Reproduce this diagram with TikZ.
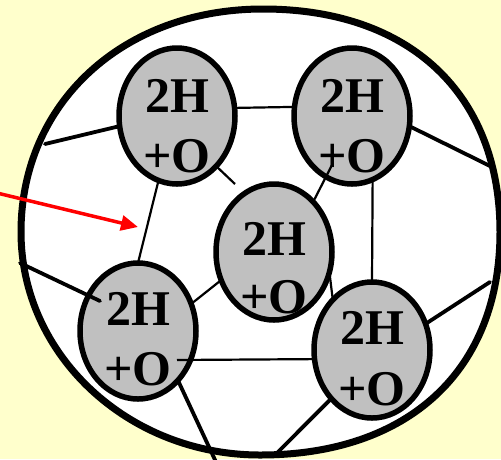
\documentclass[tikz,border=0pt]{standalone}
\usepackage{fontspec}
\setmainfont{Liberation Serif}
\usetikzlibrary{shapes.geometric,arrows.meta}
\definecolor{bgyellow}{HTML}{FFFFCC}
\definecolor{cellgrey}{HTML}{C0C0C0}
\begin{document}
\begin{tikzpicture}[x=1pt,y=-1pt,
  cell/.style={ellipse,draw=black,line width=5.5pt,fill=cellgrey,minimum width=116pt,minimum height=136pt,inner sep=0pt,outer sep=0pt},
  lbl/.style={anchor=base,inner sep=0pt,font=\fontsize{50}{60}\selectfont\bfseries},
  thinlink/.style={line width=2.2pt},
  thicklink/.style={line width=3.8pt,line cap=round},
  wall/.style={line width=7pt,fill=white,draw=black},
  pointer/.style={draw=red,line width=3.5pt,-{Triangle[length=17pt,width=15pt]}}
]
\useasboundingbox (0,0) rectangle (501,459);
\clip (0,0) rectangle (501,459);
\fill[bgyellow] (0,0) rectangle (501,459);

% cell wall
\draw[wall] (500,232) .. controls (500,94) and (410,9) .. (263,9)
  .. controls (123,9) and (21,103) .. (21,232)
  .. controls (21,355) and (128,455) .. (260,455)
  .. controls (409,455) and (500,370) .. (500,232) -- cycle;

% cells
\node[cell] (tl) at (177,116) {};
\node[cell] (tr) at (352,116) {};
\node[cell] (c)  at (274,252) {};
\node[cell] (bl) at (138,331) {};
\node[cell] (br) at (372,350) {};

% free ends
\coordinate (a1) at (45,144);
\coordinate (c1) at (490,166);
\coordinate (d1) at (235,184);
\coordinate (e1) at (333,163);
\coordinate (j1) at (177,360);
\coordinate (k1) at (20,263);
\coordinate (k2) at (100,301);
\coordinate (l1) at (216,462);
\coordinate (m1) at (277,453);
\coordinate (n1) at (490,282);
\coordinate (r0) at (-3,193);
\coordinate (r1) at (138,227);

% links
\draw[thicklink] (tl.190) -- (a1);
\draw[thinlink] (tl.8.5) -- (tr.171.5);
\draw[thicklink] (tr.350) -- (c1);
\draw[thinlink] (tl.308) -- (d1);
\draw[thinlink] (e1) -- (c.52);
\draw[thinlink] (tl.254) -- (bl.north);
\draw[thinlink] (tr.288) -- (br.north);
\draw[thinlink] (bl.27) -- (c.208);
\draw[thinlink] (c.340) -- (br.128);
\draw[thinlink] (j1) -- (br.189.5);
\draw[thicklink] (k1) -- (k2);
\draw[thicklink] (bl.309) -- (l1);
\draw[thicklink] (br.230) -- (m1);
\draw[thicklink] (br.26) -- (n1);

% labels
\node[lbl] (tlh) at (177,112) {2H};
\node[lbl] (tlo) at (177,172) {+O};
\node[lbl] (trh) at (352,112) {2H};
\node[lbl] (tro) at (352,172) {+O};
\node[lbl] (ch)  at (274,255) {2H};
\node[lbl] (co)  at (274,313) {+O};
\node[lbl] (blh) at (138,325) {2H};
\node[lbl] (blo) at (138,385) {+O};
\node[lbl] (brh) at (372,344) {2H};
\node[lbl] (bro) at (372,405) {+O};

% red arrow
\draw[pointer] (r0) -- (r1);
\end{tikzpicture}
\end{document}
